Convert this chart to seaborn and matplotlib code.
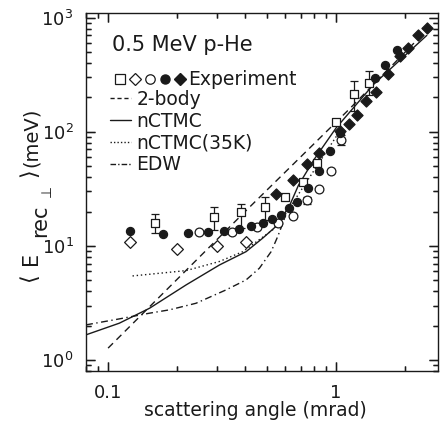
import matplotlib
matplotlib.use("Agg")
import matplotlib.pyplot as plt
import seaborn as sns
from matplotlib.collections import LineCollection
from matplotlib.legend_handler import HandlerTuple
from matplotlib.lines import Line2D
from matplotlib.ticker import LogLocator, NullFormatter
from matplotlib.transforms import blended_transform_factory

# values: scattering angle (mrad) -> <E_rec_perp> (meV)
sq_x = [0.161, 0.290, 0.382, 0.489, 0.598, 0.714, 0.823, 1.00, 1.203, 1.40]
sq_y = [15.8, 17.9, 19.7, 21.9, 26.7, 36.6, 53.1, 122, 214, 267]
sq_lo = [12.9, 13.8, 14.3, 16.9, 26.7, 36.6, 53.1, 122, 151, 210]
sq_hi = [19.0, 21.7, 23.5, 26.7, 26.7, 36.6, 53.1, 122, 276, 338]

od_x = [0.125, 0.200, 0.300, 0.402]
od_y = [10.9, 9.4, 10.0, 10.9]

oc_x = [0.251, 0.348, 0.449, 0.558, 0.650, 0.749, 0.845, 0.948, 1.048]
oc_y = [13.1, 13.2, 14.6, 15.8, 18.3, 25.3, 31.4, 44.9, 85]
oc_lo = [13.1, 13.2, 14.6, 15.8, 18.3, 23.5, 31.4, 44.9, 77]
oc_hi = [13.1, 13.2, 14.6, 15.8, 18.3, 27.0, 31.4, 44.9, 93]

fc_x = [0.125, 0.175, 0.224, 0.275, 0.324, 0.377, 0.424, 0.477, 0.522, 0.572,
        0.624, 0.672, 0.756, 0.845, 0.941, 1.041, 1.48, 1.64, 1.85]
fc_y = [13.5, 12.7, 12.9, 13.2, 13.6, 14.0, 14.8, 15.8, 17.1, 18.7,
        21.4, 24.0, 32.1, 44.9, 67.2, 97.4, 296, 387, 524]

fd_x = [0.546, 0.646, 0.744, 0.845, 1.041, 1.144, 1.232, 1.354, 1.497, 1.696,
        1.909, 2.075, 2.296, 2.50]
fd_y = [28.6, 37.9, 52.1, 65.8, 100.6, 117, 141, 187, 223, 321,
        458, 542, 700, 813]

twobody_x = [0.1, 0.406, 1.15, 2.5]
twobody_y = [1.27, 20.7, 160, 780]

nctmc_x = [0.08, 0.112, 0.152, 0.22, 0.308, 0.403, 0.477, 0.555, 0.628, 0.684,
           0.8, 1.0, 1.46, 2.5]
nctmc_y = [1.66, 2.10, 2.84, 4.55, 6.8, 8.9, 11.7, 15.3, 23, 34,
           57, 108, 260, 700]

n35_x = [0.128, 0.22, 0.308, 0.39, 0.527, 0.6, 0.79, 1.06]
n35_y = [5.45, 6.07, 7.3, 8.9, 13.8, 19, 44, 108]

edw_x = [0.08, 0.112, 0.152, 0.186, 0.243, 0.329, 0.403, 0.461, 0.519, 0.555,
         0.584, 0.6]
edw_y = [2.03, 2.29, 2.57, 2.75, 3.14, 4.11, 5.03, 6.37, 8.9, 12.1,
         15.8, 18.5]

XLIM = (0.08, 2.8)
YLIM = (0.8, 1100)

sns.set_theme(style="ticks", rc={"text.color": "k", "axes.labelcolor": "k",
                                 "xtick.color": "k", "ytick.color": "k",
                                 "axes.edgecolor": "k",
                                 "xtick.direction": "in", "ytick.direction": "in",
                                 "xtick.top": True, "ytick.right": True})
plt.rcParams["font.family"] = ["DejaVu Sans"]

fig = plt.figure(figsize=(4.4, 4.25), dpi=100)
ax = fig.add_axes([86 / 440, 1 - 371 / 425, 352 / 440, 358 / 425])
ax.set_xscale("log")
ax.set_yscale("log")

lw = 1.0
sns.lineplot(x=twobody_x, y=twobody_y, color="k", lw=lw, ax=ax,
             linestyle=(0, (5, 3.5)), estimator=None, sort=False)
sns.lineplot(x=nctmc_x, y=nctmc_y, color="k", lw=lw, ax=ax, estimator=None, sort=False)
sns.lineplot(x=n35_x, y=n35_y, color="k", lw=lw, ax=ax, linestyle=(0, (1, 2)),
             estimator=None, sort=False)
sns.lineplot(x=edw_x, y=edw_y, color="k", lw=lw, ax=ax, linestyle=(0, (5, 2.5, 1, 2.5)),
             estimator=None, sort=False)

# error bars
ax.errorbar(sq_x, sq_y, yerr=[[a - b for a, b in zip(sq_y, sq_lo)],
                              [b - a for a, b in zip(sq_y, sq_hi)]],
            fmt="none", ecolor="k", elinewidth=0.9, capsize=3, capthick=0.9, zorder=2)
ax.errorbar(oc_x, oc_y, yerr=[[a - b for a, b in zip(oc_y, oc_lo)],
                              [b - a for a, b in zip(oc_y, oc_hi)]],
            fmt="none", ecolor="k", elinewidth=0.9, capsize=3, capthick=0.9, zorder=2)

mk = dict(edgecolor="k", linewidth=0.9, ax=ax, zorder=3)
sns.scatterplot(x=sq_x, y=sq_y, marker="s", s=36, facecolor="white", **mk)
sns.scatterplot(x=od_x, y=od_y, marker="D", s=36, facecolor="white", **mk)
sns.scatterplot(x=oc_x, y=oc_y, marker="o", s=40, facecolor="white", **mk)
sns.scatterplot(x=fc_x, y=fc_y, marker="o", s=34, facecolor="k", **mk)
sns.scatterplot(x=fd_x, y=fd_y, marker="D", s=32, facecolor="k", **mk)

ax.set_xlabel("scattering angle (mrad)", fontsize=13.5)
ax.xaxis.set_label_coords(0.48, -0.085)

# y label built from pieces so the subscript stays large, as in the original
ylab = [("$\\langle$", 30.5, 280, 16), ("E", 31, 258, 15), ("rec", 40, 221, 15),
        ("\u22a5", 47, 191, 10), ("$\\rangle$", 30.5, 175, 16), ("(meV)", 31.5, 137, 14)]
for s, px, py, fs in ylab:
    fig.text(px / 440, 1 - py / 425, s, rotation=90, ha="center", va="center", fontsize=fs)

ax.text(0.074, 0.911, "0.5 MeV p-He", transform=ax.transAxes, va="center", fontsize=15)

# legend: experiment markers row
exp_handles = (
    Line2D([], [], ls="none", marker="s", ms=6.5, mfc="white", mec="k", mew=0.9),
    Line2D([], [], ls="none", marker="D", ms=6.3, mfc="white", mec="k", mew=0.9),
    Line2D([], [], ls="none", marker="o", ms=6.8, mfc="white", mec="k", mew=0.9),
    Line2D([], [], ls="none", marker="o", ms=6.5, mfc="k", mec="k"),
    Line2D([], [], ls="none", marker="D", ms=6, mfc="k", mec="k"),
)
leg1 = ax.legend([exp_handles], ["Experiment"], handler_map={tuple: HandlerTuple(ndivide=None, pad=0)},
                 loc="upper left", bbox_to_anchor=(0.074, 0.84), frameon=False,
                 fontsize=13.5, handlelength=4.0, handletextpad=0.08, numpoints=1,
                 borderpad=0, borderaxespad=0)
ax.add_artist(leg1)

line_handles = [
    Line2D([], [], color="k", lw=lw, ls=(0, (3, 2))),
    Line2D([], [], color="k", lw=lw, ls="-"),
    Line2D([], [], color="k", lw=lw, ls=(0, (1, 1.5))),
    Line2D([], [], color="k", lw=lw, ls=(0, (4, 1.5, 1, 1.5))),
]
ax.legend(line_handles, ["2-body", "nCTMC", "nCTMC(35K)", "EDW"],
          loc="upper left", bbox_to_anchor=(0.068, 0.785), frameon=False,
          fontsize=13.5, handlelength=1.1, handletextpad=0.3, labelspacing=0.15,
          borderpad=0, borderaxespad=0)

# axis limits and ticks
ax.set_xlim(*XLIM)
ax.set_ylim(*YLIM)
ax.set_xticks([0.1, 1])
ax.set_xticklabels(["0.1", "1"])
ax.xaxis.set_minor_locator(LogLocator(base=10, subs=range(2, 10)))
ax.xaxis.set_minor_formatter(NullFormatter())
ax.yaxis.set_major_locator(LogLocator(base=10))
ax.yaxis.set_minor_locator(LogLocator(base=10, subs=range(2, 10)))
ax.yaxis.set_minor_formatter(NullFormatter())
ax.tick_params(which="both", direction="in", top=True, right=True, width=1.0,
               color="k", labelsize=13, pad=9)
ax.tick_params(which="major", length=6.5)
ax.tick_params(which="minor", length=3.6)
for sp in ax.spines.values():
    sp.set_linewidth(1.0)

# inward tick strokes on all four sides, taken from the same log locators
wpx, hpx = 352, 358
maj_px, min_px = 9, 5
xt = blended_transform_factory(ax.transData, ax.transAxes)
yt = blended_transform_factory(ax.transAxes, ax.transData)
xseg, yseg = [], []
for subs, L in [((1.0,), maj_px), (range(2, 10), min_px)]:
    for v in LogLocator(base=10, subs=subs).tick_values(*XLIM):
        if XLIM[0] <= v <= XLIM[1]:
            xseg += [[(v, 0), (v, L / hpx)], [(v, 1), (v, 1 - L / hpx)]]
    for v in LogLocator(base=10, subs=subs).tick_values(*YLIM):
        if YLIM[0] <= v <= YLIM[1]:
            yseg += [[(0, v), (L / wpx, v)], [(1, v), (1 - L / wpx, v)]]
ax.add_collection(LineCollection(xseg, colors="k", linewidths=0.9, transform=xt,
                                 clip_on=False, zorder=5))
ax.add_collection(LineCollection(yseg, colors="k", linewidths=0.9, transform=yt,
                                 clip_on=False, zorder=5))
ax.set_xlim(*XLIM)
ax.set_ylim(*YLIM)

fig.savefig("out.png", dpi=100)
